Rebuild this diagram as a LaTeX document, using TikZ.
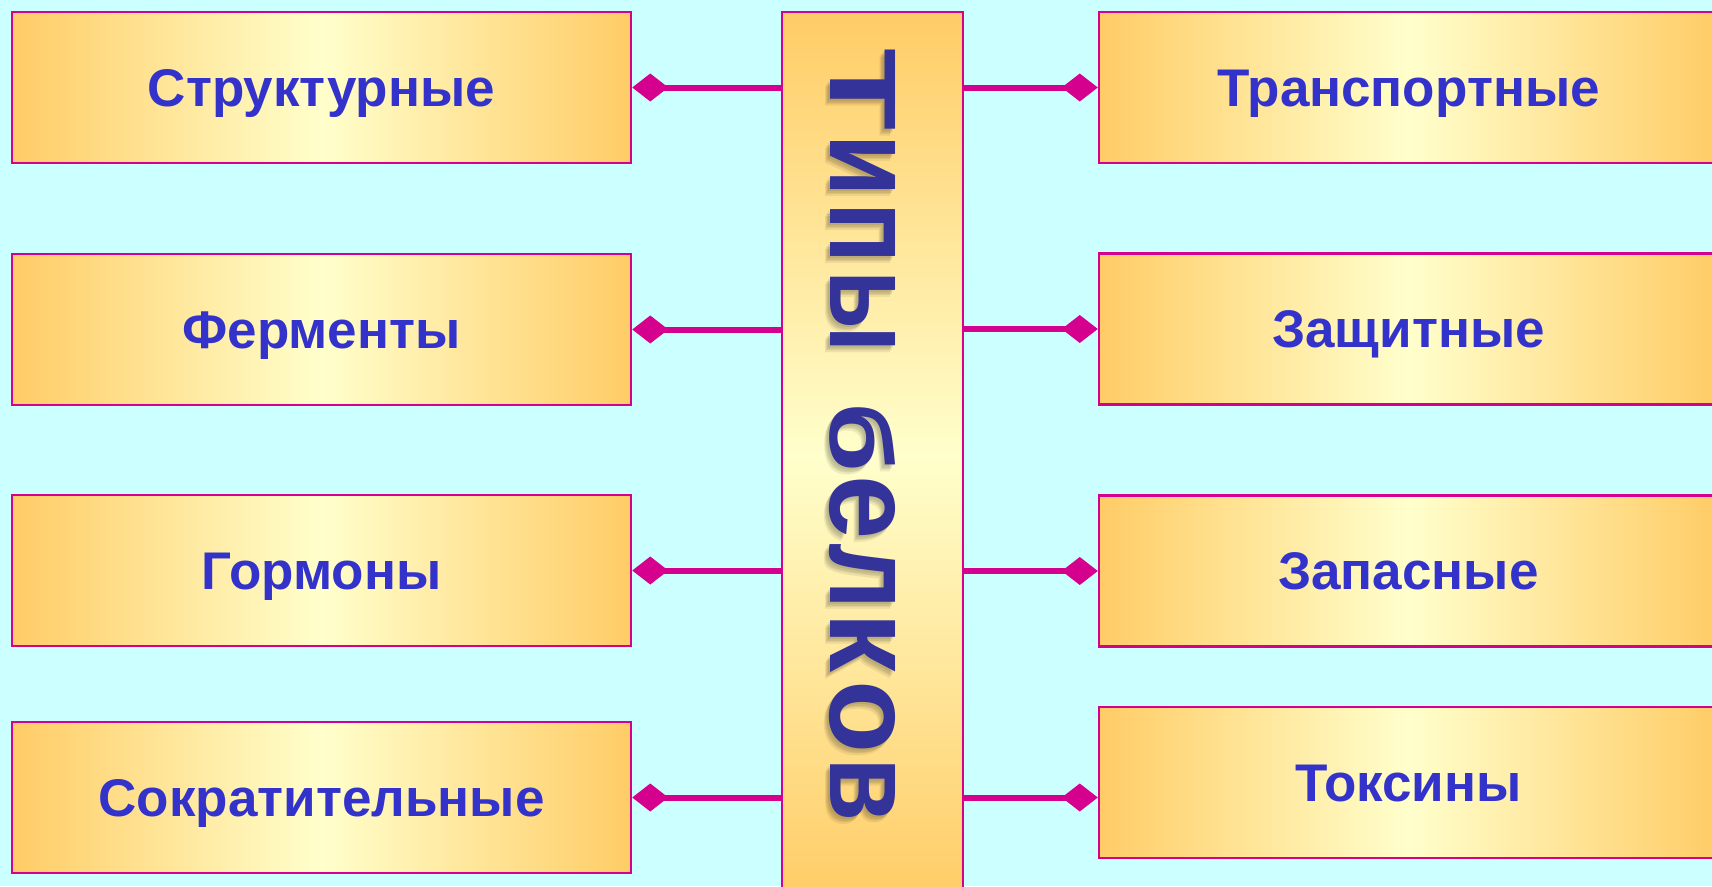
\documentclass[tikz,border=0pt]{standalone}
\usepackage{fontspec}
\usepackage{graphicx}
\setmainfont{Liberation Sans}
\usetikzlibrary{arrows.meta}
\definecolor{bg}{RGB}{204,255,255}
\definecolor{boxo}{RGB}{255,204,102}
\definecolor{boxl}{RGB}{255,255,204}
\definecolor{edge}{RGB}{214,0,143}
\definecolor{lbl}{RGB}{51,51,204}
\definecolor{ttl}{RGB}{51,51,153}
% one stretched letter of the vertical title: name, letter, start y, length
\newcommand\TLtr[4]{%
  \foreach \dx/\dy in {-2/2,-3/4,-4/5,-5/7}{
    \node[tlet, text=black, opacity=0.07] at (830+\dx,#3+\dy) {\resizebox{#4pt}{65pt}{\bfseries #2}};
  }
  \node[tlet, text=ttl] (#1) at (830,#3) {\resizebox{#4pt}{65pt}{\bfseries #2}};
}
\begin{document}
\begin{tikzpicture}[x=1pt,y=-1pt,
  hbox/.style={draw=edge, line width=2.5pt, left color=boxo, right color=boxo, middle color=boxl,
    minimum width=619pt, minimum height=151pt, inner sep=0pt,
    font=\fontsize{53}{60}\selectfont\bfseries, text=lbl, text height=37pt, text depth=0pt},
  vbox/.style={draw=edge, line width=2.5pt, top color=boxo, bottom color=boxo, middle color=boxl,
    minimum width=181pt, minimum height=888pt, inner sep=0pt},
  conn/.style={draw=edge, line width=6pt, -{Diamond[length=36pt,width=28pt]}},
  tlet/.style={rotate=-90, anchor=base west, inner sep=0pt, outer sep=0pt}]
\useasboundingbox (0,0) rectangle (1712,886);
\fill[bg] (0,0) rectangle (1712,886);
\clip (0,0) rectangle (1712,886);
% centre column
\node[vbox] (c) at (872.5,456) {};
% left boxes
\node[hbox] (l1) at (321.5,87.5) {Структурные};
\node[hbox] (l2) at (321.5,329.5) {Ферменты};
\node[hbox] (l3) at (321.5,570.5) {Гормоны};
\node[hbox] (l4) at (321.5,797.5) {Сократительные};
% right boxes
\node[hbox] (r1) at (1408.5,87.5) {Транспортные};
\node[hbox] (r2) at (1408.5,329) {Защитные};
\node[hbox] (r3) at (1408.5,571) {Запасные};
\node[hbox] (r4) at (1408.5,782.5) {Токсины};
% connectors
\draw[conn] (c.west |- l1.east) -- (l1.east);
\draw[conn] (c.west |- l2.east) -- (l2.east);
\draw[conn] (c.west |- l3.east) -- (l3.east);
\draw[conn] (c.west |- l4.east) -- (l4.east);
\draw[conn] (c.east |- r1.west) -- (r1.west);
\draw[conn] (c.east |- r2.west) -- (r2.west);
\draw[conn] (c.east |- r3.west) -- (r3.west);
\draw[conn] (c.east |- l4.east) -- (r4.west |- l4.east);
% vertical title "Типы белков"
\TLtr{t1}{Т}{48}{82}
\TLtr{t2}{и}{134}{62}
\TLtr{t3}{п}{202}{61}
\TLtr{t4}{ы}{270}{82}
\TLtr{t5}{б}{402}{70}
\TLtr{t6}{е}{475}{64}
\TLtr{t7}{л}{543}{66}
\TLtr{t8}{к}{612}{60}
\TLtr{t9}{о}{680}{73}
\TLtr{t10}{в}{757}{64}
\end{tikzpicture}
\end{document}
